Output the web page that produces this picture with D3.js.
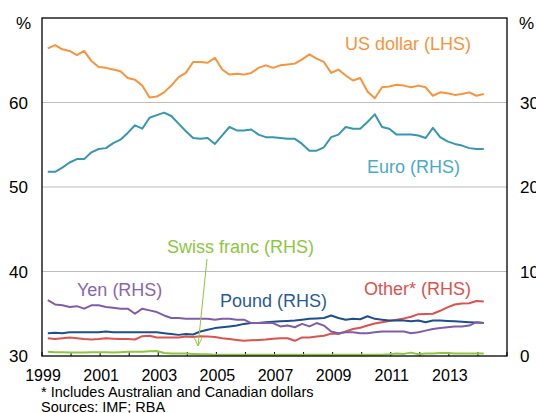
<!DOCTYPE html>
<html><head><meta charset="utf-8">
<script src="https://cdn.jsdelivr.net/npm/d3@7"></script>
<style>body{margin:0;background:#fff}svg{display:block;font-family:"Liberation Sans",Arial,sans-serif}</style>
</head><body><svg id="c" width="536" height="413"></svg>
<script>
// quarterly data 1999Q1 .. 2014Q1
const startYear = 1999;
const usDollar = [66.4,66.8,66.3,66.1,65.6,66.1,64.9,64.2,64.1,63.9,
  63.7,62.9,62.7,62.0,60.6,60.7,61.2,62.0,63.0,63.5,
  64.8,64.8,64.7,65.3,63.9,63.3,63.4,63.3,63.5,64.1,
  64.4,64.1,64.4,64.5,64.6,65.1,65.7,65.2,64.8,63.5,
  63.9,63.2,62.6,62.9,61.3,60.5,61.8,61.9,62.1,62.0,
  61.8,62.0,61.8,60.8,61.2,61.1,60.9,61.0,61.2,60.8,61.0];
const euro = [21.8,21.8,22.3,22.9,23.3,23.3,24.1,24.5,24.6,25.2,
  25.6,26.4,27.3,26.9,28.2,28.5,28.8,28.4,27.5,26.6,
  25.8,25.7,25.8,25.1,26.1,27.1,26.7,26.7,26.8,26.2,
  25.9,25.9,25.8,25.7,25.7,25.1,24.3,24.3,24.7,25.9,
  26.2,27.1,26.9,26.9,27.7,28.6,27.1,26.9,26.2,26.2,
  26.2,26.1,25.8,27.0,25.9,25.4,25.1,24.9,24.6,24.5,24.5];
const yen = [6.6,6.1,6.0,5.8,5.9,5.6,6.0,6.0,5.8,5.7,
  5.6,5.6,5.0,5.6,5.4,5.2,4.8,4.5,4.5,4.4,
  4.4,4.4,4.4,4.3,4.4,4.4,4.3,4.3,3.9,3.9,
  3.9,3.9,3.5,3.6,3.4,3.8,3.5,3.9,3.6,2.9,
  2.7,2.8,2.8,2.7,2.7,2.8,2.9,2.9,2.9,2.9,
  2.7,2.8,3.0,3.2,3.3,3.4,3.5,3.5,3.6,4.0,3.9];
const pound = [2.7,2.75,2.7,2.8,2.8,2.8,2.8,2.8,2.9,2.8,
  2.8,2.8,2.8,2.8,2.8,2.8,2.7,2.6,2.5,2.6,
  2.55,2.9,3.1,3.3,3.4,3.5,3.6,3.8,3.9,3.9,
  4.0,4.05,4.1,4.15,4.2,4.3,4.4,4.45,4.5,4.8,
  4.5,4.3,4.4,4.35,4.7,4.4,4.3,4.2,4.2,4.2,
  4.1,4.2,4.0,4.2,4.2,4.15,4.1,4.05,4.0,3.95,3.9];
const other = [2.1,2.0,2.1,2.2,2.1,2.0,1.95,2.0,2.1,2.05,
  2.0,2.0,1.95,2.35,2.4,2.2,2.2,2.2,2.2,2.3,
  2.25,2.35,2.3,2.25,2.1,2.0,1.9,1.8,1.85,1.9,
  1.95,2.05,2.1,2.1,1.8,2.2,2.2,2.3,2.4,2.65,
  2.6,2.9,3.2,3.35,3.6,3.85,4.0,4.15,4.3,4.45,
  4.65,4.95,4.97,5.0,5.35,5.75,6.1,6.2,6.25,6.5,6.45];
const swissFranc = [0.5,0.45,0.45,0.4,0.4,0.4,0.45,0.45,0.45,0.4,
  0.45,0.5,0.5,0.5,0.55,0.6,0.35,0.3,0.3,0.3,
  0.25,0.2,0.2,0.15,0.15,0.15,0.15,0.15,0.15,0.15,
  0.15,0.15,0.15,0.15,0.15,0.15,0.15,0.15,0.15,0.15,
  0.15,0.15,0.15,0.15,0.15,0.15,0.15,0.2,0.3,0.25,
  0.4,0.2,0.3,0.3,0.35,0.35,0.3,0.3,0.3,0.3,0.3];
const xTickLabels = ["1999","2001","2003","2005","2007","2009","2011","2013"];
const yLeftTicks = [30,40,50,60];
const yRightTicks = [0,10,20,30];

const svg = d3.select("#c");
const L = 42, R = 507, T = 18, B = 356;
const x = d3.scaleLinear().domain([1999, 2015]).range([L, R]);
const yL = d3.scaleLinear().domain([30, 70]).range([B, T]);
const yR = d3.scaleLinear().domain([0, 40]).range([B, T]);
const tOf = i => startYear + 0.2 + i * 0.25;

// gridlines
svg.append("g").selectAll("line").data([40,50,60]).join("line")
  .attr("x1", L).attr("x2", R).attr("y1", d => yL(d)).attr("y2", d => yL(d))
  .attr("stroke", "#bdbdbd").attr("stroke-width", 1);

// year ticks (inside, bottom)
svg.append("g").selectAll("line").data(d3.range(1999, 2016)).join("line")
  .attr("x1", d => x(d)).attr("x2", d => x(d)).attr("y1", B).attr("y2", B - 4)
  .attr("stroke", "#000").attr("stroke-width", 1);

const series = [
  {v: swissFranc, s: yR, c: "#8dc63f"},
  {v: other, s: yR, c: "#d9534f"},
  {v: pound, s: yR, c: "#1f4e8c"},
  {v: yen, s: yR, c: "#7f5ea8"},
  {v: euro, s: yR, c: "#3797b0"},
  {v: usDollar, s: yL, c: "#f7943c"}
];
series.forEach(se => {
  const line = d3.line().x((d, i) => x(tOf(i))).y(d => se.s(d));
  svg.append("path").datum(se.v).attr("d", line)
    .attr("fill", "none").attr("stroke", se.c).attr("stroke-width", 2)
    .attr("stroke-linejoin", "round");
});

// frame
svg.append("rect").attr("x", L).attr("y", T).attr("width", R - L).attr("height", B - T)
  .attr("fill", "none").attr("stroke", "#000").attr("stroke-width", 1.3);

// axes labels
svg.append("g").selectAll("text").data(yLeftTicks).join("text")
  .attr("x", 28).attr("y", d => yL(d) + 6).attr("text-anchor", "end")
  .attr("font-size", 17).text(d => d);
svg.append("g").selectAll("text").data(yRightTicks).join("text")
  .attr("x", 520).attr("y", d => yR(d) + 6).attr("text-anchor", "start")
  .attr("font-size", 17).text(d => d);
svg.append("text").attr("x", 16).attr("y", 29).attr("font-size", 17).text("%");
svg.append("text").attr("x", 519).attr("y", 29).attr("font-size", 17).text("%");
svg.append("g").selectAll("text").data(xTickLabels).join("text")
  .attr("x", d => x(+d) + 1).attr("y", 381).attr("text-anchor", "middle")
  .attr("font-size", 16).text(d => d);

// series labels
const labels = [
  {t: "US dollar (LHS)", x: 345, y: 50, c: "#f7943c"},
  {t: "Euro (RHS)", x: 367, y: 173, c: "#4aabc6"},
  {t: "Swiss franc (RHS)", x: 167, y: 253, c: "#8dc63f"},
  {t: "Yen (RHS)", x: 77, y: 296, c: "#8866b0"},
  {t: "Pound (RHS)", x: 220, y: 307, c: "#2a5b97"},
  {t: "Other* (RHS)", x: 364, y: 295, c: "#d9534f"}
];
svg.append("g").selectAll("text").data(labels).join("text")
  .attr("x", d => d.x).attr("y", d => d.y).attr("fill", d => d.c)
  .attr("font-size", 18).text(d => d.t);

// arrow for Swiss franc
const ax1 = 207, ay1 = 259, ax2 = 198, ay2 = 346;
svg.append("line").attr("x1", ax1).attr("y1", ay1).attr("x2", ax2).attr("y2", ay2)
  .attr("stroke", "#8dc63f").attr("stroke-width", 1);
svg.append("path").attr("d", `M${ax2-4},${ay2-9} L${ax2},${ay2} L${ax2+4},${ay2-8}`)
  .attr("fill", "none").attr("stroke", "#8dc63f").attr("stroke-width", 1);

// footnotes
svg.append("text").attr("x", 41).attr("y", 397).attr("font-size", 14.5)
  .text("* Includes Australian and Canadian dollars");
svg.append("text").attr("x", 41).attr("y", 412).attr("font-size", 14.5)
  .text("Sources: IMF; RBA");
</script></body></html>
